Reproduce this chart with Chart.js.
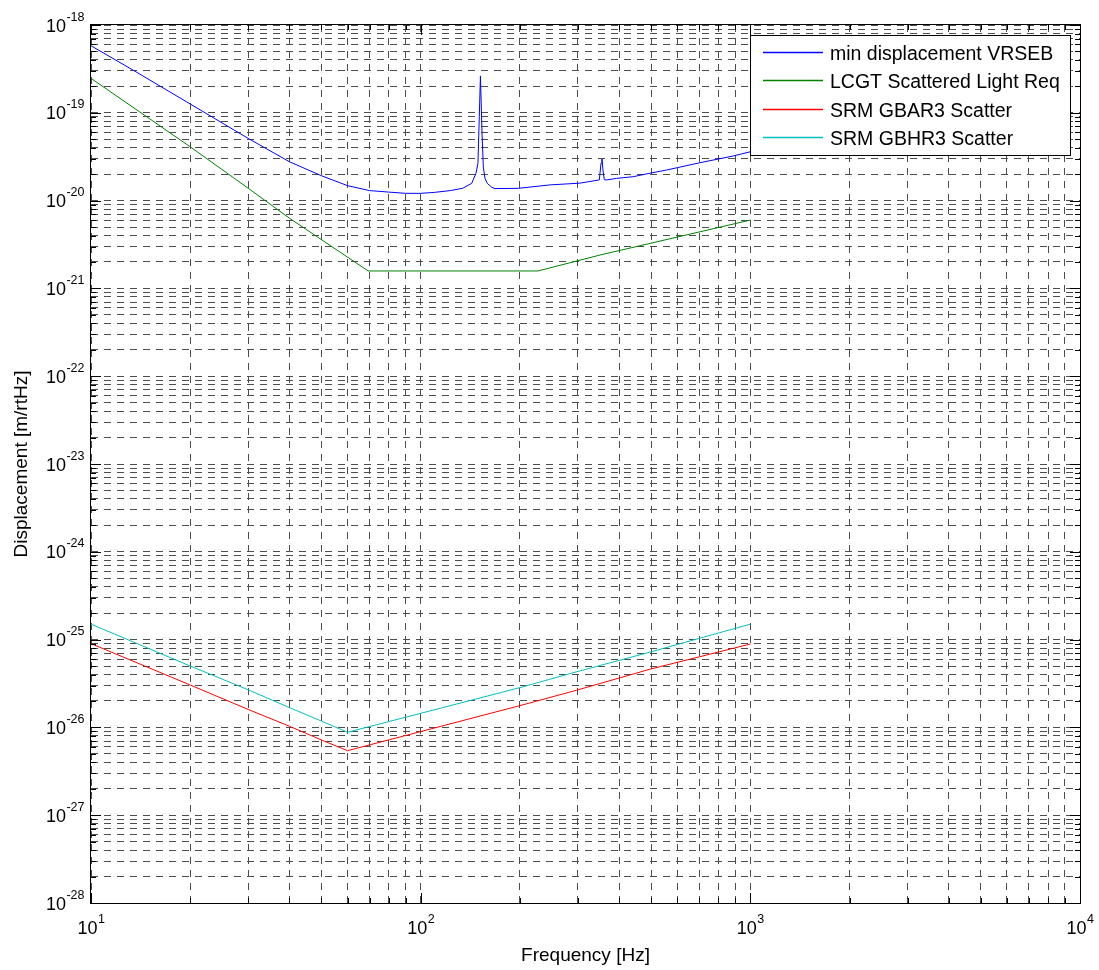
<!DOCTYPE html>
<html>
<head>
<meta charset="utf-8">
<script src="https://cdn.jsdelivr.net/npm/chart.js@4.4.1/dist/chart.umd.min.js"></script>
<style>
  html, body { margin: 0; padding: 0; background: #fff; }
  #wrap { width: 1099px; height: 970px; position: relative; }
</style>
</head>
<body>
<div id="wrap"><canvas id="chart"></canvas></div>
<script>
// frequency [Hz] / displacement [m/rtHz]
const vrsebFreq = [10, 13.4, 20, 30, 40, 50, 60, 70, 80, 90,
  100, 110, 123, 134, 142.8, 147.2, 149.2, 150.6, 151.8, 153.5,
  154.9, 156.7, 159.3, 164.2, 168, 198, 247, 304, 348.3, 352.4,
  354.8, 357.3, 360.6, 366.7, 392.6, 441, 496, 557, 703, 887, 1000];
const vrsebDisp = [5.8e-19, 3.07e-19, 1.26e-19, 5.1e-20, 2.77e-20, 1.92e-20, 1.48e-20, 1.30e-20, 1.25e-20, 1.21e-20,
  1.21e-20, 1.24e-20, 1.30e-20, 1.38e-20, 1.57e-20, 2.05e-20, 2.66e-20, 9.0e-20, 2.63e-19, 5.9e-20,
  2.43e-20, 1.79e-20, 1.57e-20, 1.42e-20, 1.37e-20, 1.38e-20, 1.51e-20, 1.58e-20, 1.72e-20, 2.66e-20,
  2.98e-20, 2.23e-20, 1.73e-20, 1.72e-20, 1.79e-20, 1.87e-20, 2.05e-20, 2.23e-20, 2.7e-20, 3.22e-20, 3.6e-20];

const lcgtFreq = [10, 20, 30, 40, 69.3, 227, 350, 1000];
const lcgtDisp = [2.47e-19, 4.1e-20, 1.38e-20, 6.3e-21, 1.58e-21, 1.58e-21, 2.4e-21, 6.0e-21];

const gbar3Freq = [10, 20, 30, 40, 50, 60, 200, 297, 496, 1000];
const gbar3Disp = [9.0e-26, 3.04e-26, 1.6e-26, 1.03e-26, 7.2e-27, 5.43e-27, 1.77e-26, 2.65e-26, 4.6e-26, 8.9e-26];

const gbhr3Freq = [10, 20, 30, 40, 50, 60, 200, 297, 496, 1000];
const gbhr3Disp = [1.5e-25, 5.0e-26, 2.68e-26, 1.68e-26, 1.18e-26, 8.8e-27, 2.84e-26, 4.3e-26, 7.2e-26, 1.5e-25];

const seriesLabels = ['min displacement VRSEB', 'LCGT Scattered Light Req', 'SRM GBAR3 Scatter', 'SRM GBHR3 Scatter'];
const seriesColors = ['#0000ff', '#008000', '#ff0000', '#00bfbf'];

// decade exponents used for tick labels
const xExponents = [1, 2, 3, 4];
const yExponents = [-28, -27, -26, -25, -24, -23, -22, -21, -20, -19, -18];

const FONT = '"Liberation Sans", Arial, Helvetica, sans-serif';

// MATLAB style log ticks: 1..9 in every decade
function logTicks(exps) {
  const out = [];
  for (let i = 0; i < exps.length - 1; i++) {
    for (let k = 1; k <= 9; k++) out.push(k * Math.pow(10, exps[i]));
  }
  out.push(Math.pow(10, exps[exps.length - 1]));
  return out;
}
const xTicks = logTicks(xExponents);
const yTicks = logTicks(yExponents);

function isDecade(v) {
  const l = Math.log10(v);
  return Math.abs(l - Math.round(l)) < 1e-6;
}

function pts(f, d) {
  return f.map((v, i) => ({ x: v, y: d[i] }));
}

function drawPow(ctx, exp, x, base, align) {
  ctx.font = '18px ' + FONT;
  const w1 = ctx.measureText('10').width;
  ctx.font = '12.5px ' + FONT;
  const w2 = ctx.measureText(String(exp)).width;
  const left = align === 'center' ? x - (w1 + w2) / 2 : x - w1 - w2;
  ctx.textAlign = 'left';
  ctx.textBaseline = 'alphabetic';
  ctx.font = '18px ' + FONT;
  ctx.fillText('10', left, base);
  ctx.font = '12.5px ' + FONT;
  ctx.fillText(String(exp), left + w1 + 0.5, base - 11);
}

// box, inward ticks, tick labels, axis titles and legend like a MATLAB figure
const matlabFrame = {
  id: 'matlabFrame',
  afterDatasetsDraw(chart) {
    const { ctx, chartArea: a, scales: { x, y } } = chart;
    ctx.save();
    ctx.strokeStyle = '#000';
    ctx.lineWidth = 1;
    ctx.setLineDash([]);

    ctx.beginPath();
    xTicks.forEach(v => {
      const px = Math.round(x.getPixelForValue(v)) + 0.5;
      const len = isDecade(v) ? 10 : 5;
      ctx.moveTo(px, a.bottom); ctx.lineTo(px, a.bottom - len);
      ctx.moveTo(px, a.top); ctx.lineTo(px, a.top + len);
    });
    yTicks.forEach(v => {
      const py = Math.round(y.getPixelForValue(v)) + 0.5;
      const len = isDecade(v) ? 10 : 5;
      ctx.moveTo(a.left, py); ctx.lineTo(a.left + len, py);
      ctx.moveTo(a.right, py); ctx.lineTo(a.right - len, py);
    });
    ctx.stroke();
    ctx.strokeRect(Math.round(a.left) - 0.5, Math.round(a.top) - 0.5,
      Math.round(a.right - a.left) + 1, Math.round(a.bottom - a.top) + 1);

    ctx.fillStyle = '#000';
    xExponents.forEach(e => {
      drawPow(ctx, e, x.getPixelForValue(Math.pow(10, e)), 934, 'center');
    });
    yExponents.forEach(e => {
      drawPow(ctx, e, 84, y.getPixelForValue(Math.pow(10, e)) + 6.5, 'right');
    });

    ctx.font = '19px ' + FONT;
    ctx.textAlign = 'center';
    ctx.textBaseline = 'alphabetic';
    ctx.fillText('Frequency [Hz]', (a.left + a.right) / 2, 961);
    ctx.save();
    ctx.translate(27, (a.top + a.bottom) / 2);
    ctx.rotate(-Math.PI / 2);
    ctx.fillText('Displacement [m/rtHz]', 0, 0);
    ctx.restore();

    // legend
    const lx = 750, ly = 35, lw = 320, lh = 120;
    ctx.fillStyle = '#fff';
    ctx.fillRect(lx, ly, lw, lh);
    ctx.strokeStyle = '#000';
    ctx.strokeRect(lx + 0.5, ly + 0.5, lw, lh);
    ctx.font = '19.5px ' + FONT;
    ctx.textAlign = 'left';
    seriesLabels.forEach((label, i) => {
      const ry = Math.round(52 + i * 28.3) + 0.5;
      ctx.strokeStyle = seriesColors[i];
      ctx.lineWidth = 1.3;
      ctx.beginPath();
      ctx.moveTo(763, ry);
      ctx.lineTo(823, ry);
      ctx.stroke();
      ctx.fillStyle = '#000';
      ctx.fillText(label, 830, ry + 7);
    });
    ctx.restore();
  }
};

const gridOpts = { color: '#4d4d4d', lineWidth: 1, drawTicks: false };
const borderOpts = { display: false, dash: [7, 6] };

new Chart(document.getElementById('chart'), {
  type: 'line',
  data: {
    datasets: [
      { label: seriesLabels[0], data: pts(vrsebFreq, vrsebDisp), borderColor: seriesColors[0] },
      { label: seriesLabels[1], data: pts(lcgtFreq, lcgtDisp), borderColor: seriesColors[1] },
      { label: seriesLabels[2], data: pts(gbar3Freq, gbar3Disp), borderColor: seriesColors[2] },
      { label: seriesLabels[3], data: pts(gbhr3Freq, gbhr3Disp), borderColor: seriesColors[3] }
    ]
  },
  options: {
    responsive: true,
    maintainAspectRatio: false,
    animation: false,
    layout: { padding: { left: 91, top: 25, right: 19, bottom: 67 } },
    elements: {
      line: { borderWidth: 1, tension: 0, fill: false },
      point: { radius: 0 }
    },
    scales: {
      x: {
        type: 'logarithmic',
        min: 10,
        max: 10000,
        afterBuildTicks: axis => { axis.ticks = xTicks.map(v => ({ value: v })); },
        ticks: { display: false },
        grid: gridOpts,
        border: borderOpts
      },
      y: {
        type: 'logarithmic',
        min: 1e-28,
        max: 1e-18,
        afterBuildTicks: axis => { axis.ticks = yTicks.map(v => ({ value: v })); },
        ticks: { display: false },
        grid: gridOpts,
        border: borderOpts
      }
    },
    plugins: {
      legend: { display: false },
      tooltip: { enabled: false }
    }
  },
  plugins: [matlabFrame]
});
</script>
</body>
</html>
